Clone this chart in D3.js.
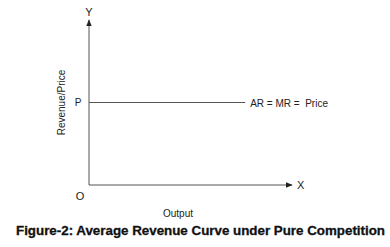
<!DOCTYPE html>
<html>
<head>
<meta charset="utf-8">
<script src="https://cdn.jsdelivr.net/npm/d3@7"></script>
<style>
  body { margin: 0; background: #fff; }
  text { font-family: "Liberation Sans", Arial, sans-serif; fill: #222; white-space: pre; }
</style>
</head>
<body>
<div id="chart"></div>
<script>
// values
var axisMax = [13, 10]          // x, y extents of the axes
var price = [5]                 // P level
var curveX = [0, 10]            // AR = MR line runs from 0 to 10 output
var curveLabel = ['AR = MR =  Price']
var axisNames = ['X', 'Y', 'O', 'P']
var titles = ['Output', 'Revenue/Price', 'Figure-2: Average Revenue Curve under Pure Competition']

var svgWidth = 390
var svgHeight = 247

var svg = d3.select('#chart')
    .append('svg')
    .attr('width', svgWidth)
    .attr('height', svgHeight)

var x = d3.scaleLinear().domain([0, axisMax[0]]).range([89, 292])
var y = d3.scaleLinear().domain([0, axisMax[1]]).range([185, 20])

svg.append('defs').append('marker')
    .attr('id', 'arrow')
    .attr('viewBox', '0 0 10 10')
    .attr('refX', 9)
    .attr('refY', 5)
    .attr('markerWidth', 7)
    .attr('markerHeight', 7)
    .attr('orient', 'auto')
  .append('path')
    .attr('d', 'M0,1 L10,5 L0,9 Z')
    .attr('fill', '#222')

// axes
svg.append('line')
    .attr('x1', x(0)).attr('y1', y(0))
    .attr('x2', x(0)).attr('y2', y(axisMax[1]))
    .attr('stroke', '#555').attr('stroke-width', 1)
    .attr('marker-end', 'url(#arrow)')

svg.append('line')
    .attr('x1', x(0)).attr('y1', y(0))
    .attr('x2', x(axisMax[0])).attr('y2', y(0))
    .attr('stroke', '#555').attr('stroke-width', 1)
    .attr('marker-end', 'url(#arrow)')

// AR = MR line
svg.selectAll('line.ar')
    .data(price)
    .enter()
    .append('line')
    .classed('ar', true)
    .attr('x1', x(curveX[0]))
    .attr('x2', x(curveX[1]))
    .attr('y1', function(d) { return y(d) })
    .attr('y2', function(d) { return y(d) })
    .attr('stroke', '#555')
    .attr('stroke-width', 1)

svg.append('text')
    .attr('x', x(curveX[1]) + 5)
    .attr('y', y(price[0]) + 4)
    .attr('font-size', 10)
    .text(curveLabel[0])

// letters
svg.append('text')
    .attr('x', x(axisMax[0]) + 5).attr('y', y(0) + 4)
    .attr('font-size', 11)
    .text(axisNames[0])

svg.append('text')
    .attr('x', x(0)).attr('y', y(axisMax[1]) - 4)
    .attr('text-anchor', 'middle')
    .attr('font-size', 11)
    .text(axisNames[1])

svg.append('text')
    .attr('x', x(0) - 9).attr('y', y(0) + 15)
    .attr('text-anchor', 'middle')
    .attr('font-size', 11)
    .text(axisNames[2])

svg.append('text')
    .attr('x', x(0) - 11).attr('y', y(price[0]) + 3)
    .attr('text-anchor', 'middle')
    .attr('font-size', 10)
    .text(axisNames[3])

// axis titles
svg.append('text')
    .attr('x', 178).attr('y', 217)
    .attr('text-anchor', 'middle')
    .attr('font-size', 10)
    .text(titles[0])

svg.append('text')
    .attr('transform', 'translate(65,' + y(price[0]) + ') rotate(-90)')
    .attr('text-anchor', 'middle')
    .attr('font-size', 10)
    .text(titles[1])

// caption
svg.append('text')
    .attr('x', 16).attr('y', 235)
    .attr('font-size', 12.5)
    .attr('font-weight', 'bold')
    .attr('textLength', 369)
    .attr('lengthAdjust', 'spacingAndGlyphs')
    .style('fill', '#111')
    .style('stroke', '#111')
    .style('stroke-width', 0.3)
    .text(titles[2])
</script>
</body>
</html>
